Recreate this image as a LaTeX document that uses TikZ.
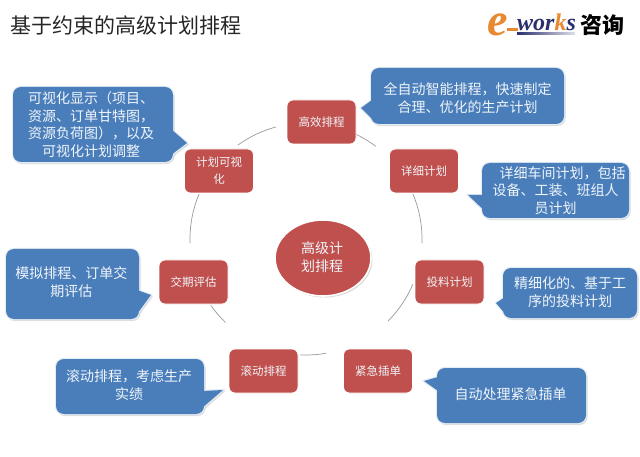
\documentclass[tikz,border=0pt]{standalone}
\usepackage{fontspec}
\setmainfont{Liberation Serif}
\newfontfamily\cjk{Noto Sans CJK SC}
\usetikzlibrary{calc}
\definecolor{bubblefillc}{HTML}{4A7EBB}
\definecolor{boxred}{HTML}{C0504D}
\definecolor{bubbleedgec}{HTML}{E4ECF4}
\definecolor{softwhite}{HTML}{F0F5FA}
\definecolor{ringgray}{HTML}{9A9A9A}
\definecolor{logoorange}{HTML}{E8892F}
\definecolor{logonavy}{HTML}{2A2F6E}
\tikzset{
  redbox/.style={fill=boxred,draw=white,line width=0.8pt,rounded corners=6pt,inner sep=0pt,align=center,text=softwhite,font=\cjk\fontsize{11.5}{17}\selectfont},
  bubbletext/.style={inner sep=0pt,align=center,text=softwhite,font=\cjk\fontsize{14}{17.5}\selectfont},
  ringarc/.style={draw=ringgray,line width=0.7pt},
  bshadow/.style={fill=black!30,draw=black!30,line width=1.2pt,opacity=0.3},
  bedge/.style={fill=bubbleedgec,draw=bubbleedgec,line width=2.2pt},
  bfill/.style={fill=bubblefillc},
}
% #1 name, #2 x1, #3 y1, #4 x2, #5 y2, #6 tail triangle, #7 text shift x, #8 text shift y, #9 text
\newcommand\bubble[9]{%
  \begin{scope}[shift={(1.2,1.6)}]
    \path[bshadow,rounded corners=8pt] (#2,#3) rectangle (#4,#5);
    \path[bshadow] #6 -- cycle;
  \end{scope}
  \path[bedge,rounded corners=8pt] (#2,#3) rectangle (#4,#5);
  \path[bedge] #6 -- cycle;
  \path[bfill,rounded corners=8pt] (#2,#3) rectangle (#4,#5);
  \path[bfill] #6 -- cycle;
  \node[bubbletext] (#1) at ({(#2+#4)/2+#7},{(#3+#5)/2+#8}) {#9};
}
\newcommand\redbox[4]{%
  \node[redbox,minimum width=69pt,minimum height=44pt] (#1) at (#2,#3) {#4};
}
\newcommand\ringpiece[2]{%
  \draw[ringarc] ($(ring)+(#1:116pt)$) arc[start angle=#1,end angle=#2,radius=116pt];
}
\begin{document}
\begin{tikzpicture}[x=1pt,y=-1pt]
\useasboundingbox (0,0) rectangle (640,457);
\fill[white] (0,0) rectangle (640,457);
\coordinate (ring) at (306,239);
\ringpiece{126}{105}
\ringpiece{65}{53}
\ringpiece{23}{-2}
\ringpiece{-23}{-45}
\ringpiece{-80}{-93}
\ringpiece{-134}{-145}
\ringpiece{-178}{-203}

\node[anchor=west,inner sep=0pt,font=\cjk\fontsize{21}{24}\selectfont,text=black!85] (title) at (10,26) {基于约束的高级计划排程};

% logo
\node[anchor=base west,inner sep=0pt,text=logoorange,font=\fontsize{46}{46}\selectfont\bfseries\itshape] (logoe) at (487,36) {e};
\fill[logoorange] (507,28) rectangle (518,31);
\node[anchor=base west,inner sep=0pt,text=logonavy,font=\fontsize{24}{24}\selectfont\bfseries\itshape] (logoworks) at (517,31) {wor\textcolor{logoorange}{k}s};
\shade[left color=logonavy,right color=logonavy!15] (517,33) rectangle (575,35);
\node[anchor=west,inner sep=0pt,font=\cjk\fontsize{22}{22}\selectfont\bfseries] (logocn) at (580,25) {咨询};

% ellipse
\fill[black!15] (324.5,259.5) ellipse [x radius=48,y radius=38];
\path[fill=boxred,draw=white,line width=1.6pt] (323,258) ellipse [x radius=48,y radius=38];
\node[inner sep=0pt,align=center,text=softwhite,font=\cjk\fontsize{14}{18}\selectfont] (core) at (322,257) {高级计\\划排程};

\redbox{a}{321.5}{122}{高效排程}
\redbox{b}{424}{171}{详细计划}
\redbox{c}{449.5}{282}{投料计划}
\redbox{d}{378}{371}{紧急插单}
\redbox{e}{263.5}{371}{滚动排程}
\redbox{f}{193.5}{282}{交期评估}
\redbox{g}{219}{171}{计划可视\\化}

\bubble{ba}{371}{68}{564}{124}{(372,100) -- (361,108) -- (376,123)}{0}{2}{全自动智能排程，快速制定\\合理、优化的生产计划}
\bubble{bb}{482}{163}{629}{218}{(484,195) -- (468,195) -- (490,216)}{0}{0}{\hspace*{14pt}详细车间计划，包括\\设备、工装、班组人\\员计划}
\bubble{bc}{503}{268}{637}{318}{(505,297) -- (496,303) -- (507,316)}{0}{-1}{精细化的、基于工\\序的投料计划}
\bubble{bd}{437}{368}{586}{423}{(438,377) -- (424,381) -- (438,391)}{-1}{-1}{自动处理紧急插单}
\bubble{be}{56}{359}{204}{414}{(202,391) -- (223,390) -- (202,408)}{-1}{-1.5}{滚动排程，考虑生产\\实绩}
\bubble{bf}{6}{249}{139}{319}{(137,290) -- (151,295) -- (137,314)}{-1}{-2}{模拟排程、订单交\\期评估}
\bubble{bg}{13}{87}{173}{162}{(171,129) -- (187,143) -- (171,155)}{-2}{0}{可视化显示（项目、\\资源、订单甘特图，\\资源负荷图），以及\\可视化计划调整}
\end{tikzpicture}
\end{document}
